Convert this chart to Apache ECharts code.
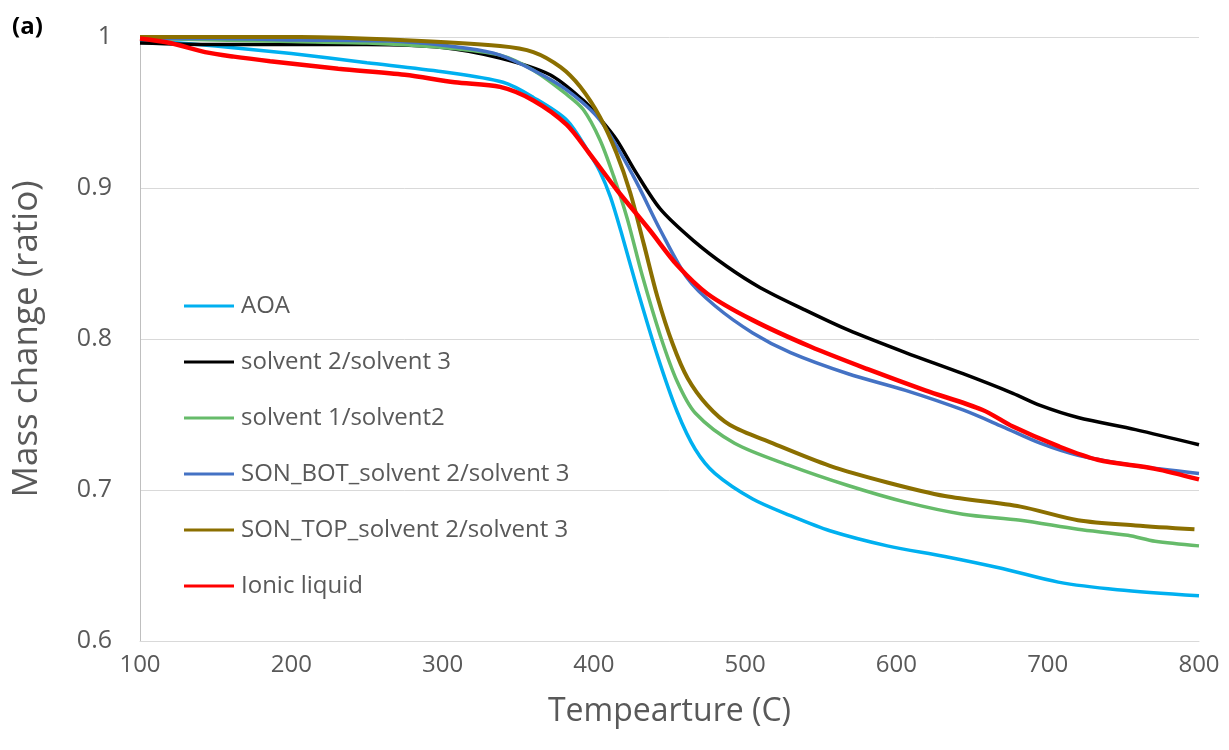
<!DOCTYPE html>
<html>
<head>
<meta charset="utf-8">
<script src="https://cdn.jsdelivr.net/npm/echarts@6/dist/echarts.min.js"></script>
<style>
  html, body { margin: 0; padding: 0; background: #fff; }
  #tga { width: 1229px; height: 750px; }
</style>
</head>
<body>
<div id="tga"></div>
<script>
// series names, in legend order
var names = ['AOA', 'solvent 2/solvent 3', 'solvent 1/solvent2',
  'SON_BOT_solvent 2/solvent 3', 'SON_TOP_solvent 2/solvent 3', 'Ionic liquid']
var colors = ['#00B0F0', '#000000', '#66BB6A', '#4472C4', '#8B6F00', '#FF0000']

// [temperature (C), mass ratio]
var aoa = [[100, 0.998], [150, 0.994], [200, 0.989], [250, 0.983], [300, 0.977], [340, 0.970],
  [360, 0.960], [382, 0.945], [397, 0.923], [404, 0.911], [411, 0.894], [418, 0.871],
  [429, 0.832], [442, 0.789], [455, 0.752], [467, 0.727], [480, 0.711], [505, 0.694],
  [530, 0.683], [556, 0.673], [594, 0.663], [632, 0.656], [670, 0.648], [707, 0.639],
  [746, 0.634], [800, 0.630]]
var solv23 = [[100, 0.996], [150, 0.995], [200, 0.995], [250, 0.995], [300, 0.993], [338, 0.986],
  [371, 0.975], [393, 0.958], [404, 0.946], [415, 0.932], [428, 0.910], [444, 0.886],
  [466, 0.865], [488, 0.848], [510, 0.834], [538, 0.820], [568, 0.806], [606, 0.791],
  [644, 0.777], [677, 0.764], [695, 0.756], [720, 0.748], [758, 0.740], [800, 0.730]]
var solv12 = [[100, 0.999], [150, 0.998], [200, 0.997], [250, 0.996], [300, 0.993], [338, 0.988],
  [360, 0.978], [382, 0.962], [393, 0.952], [404, 0.932], [413, 0.908], [422, 0.880],
  [432, 0.842], [444, 0.802], [455, 0.772], [467, 0.751], [493, 0.731], [530, 0.716],
  [568, 0.703], [606, 0.692], [644, 0.684], [682, 0.680], [720, 0.674], [753, 0.670],
  [771, 0.666], [800, 0.663]]
var sonBot = [[100, 0.999], [150, 0.999], [206, 0.998], [272, 0.997], [316, 0.9925], [338, 0.988],
  [360, 0.978], [382, 0.965], [404, 0.945], [426, 0.908], [444, 0.872], [462, 0.840],
  [480, 0.822], [505, 0.804], [530, 0.791], [568, 0.777], [606, 0.766], [644, 0.753],
  [670, 0.742], [695, 0.731], [720, 0.723], [758, 0.716], [800, 0.711]]
var sonTop = [[100, 1.0], [150, 1.0], [206, 1.0], [272, 0.998], [338, 0.994], [360, 0.990],
  [378, 0.980], [391, 0.967], [404, 0.947], [415, 0.923], [424, 0.897], [433, 0.863],
  [442, 0.828], [452, 0.797], [462, 0.774], [475, 0.756], [490, 0.743], [518, 0.731],
  [556, 0.716], [594, 0.705], [632, 0.696], [682, 0.689], [720, 0.680], [758, 0.6765],
  [797, 0.674]]
var ionic = [[100, 0.999], [120, 0.996], [143, 0.990], [162, 0.987], [186, 0.984], [231, 0.979],
  [275, 0.975], [308, 0.970], [338, 0.967], [360, 0.958], [382, 0.942], [397, 0.923],
  [415, 0.899], [437, 0.872], [455, 0.849], [475, 0.830], [505, 0.8125], [543, 0.795],
  [581, 0.780], [619, 0.766], [657, 0.753], [677, 0.742], [707, 0.729], [733, 0.720],
  [771, 0.714], [800, 0.707]]

var allData = [aoa, solv23, solv12, sonBot, sonTop, ionic]
var widths = [3.5, 3.5, 3.5, 3.5, 4, 4.5]

var gray = '#595959'
var font = 'Open Sans'

var chart = echarts.init(document.getElementById('tga'))
chart.setOption({
  backgroundColor: '#ffffff',
  animation: false,
  textStyle: { fontFamily: font },
  title: {
    text: '(a)',
    left: 7,
    top: 10,
    textStyle: { fontSize: 24, fontWeight: 'bold', color: '#000', fontFamily: font }
  },
  grid: { left: 140, right: 30, top: 37, bottom: 109 },
  legend: {
    orient: 'vertical',
    left: 184,
    top: 294,
    padding: 0,
    itemGap: 32,
    itemWidth: 50,
    itemHeight: 3,
    icon: 'rect',
    data: names,
    textStyle: { fontSize: 24, color: gray, lineHeight: 24, padding: [0, 0, 0, 2] }
  },
  xAxis: {
    type: 'value',
    min: 100,
    max: 800,
    interval: 100,
    name: 'Tempearture (C)',
    nameLocation: 'middle',
    nameGap: 55,
    nameTextStyle: { fontSize: 32, color: gray },
    axisLine: { show: true, lineStyle: { color: '#D9D9D9', width: 1 } },
    axisTick: { show: false },
    axisLabel: { fontSize: 24, color: gray, margin: 12 },
    splitLine: { show: false }
  },
  yAxis: {
    type: 'value',
    min: 0.6,
    max: 1,
    interval: 0.1,
    name: 'Mass change (ratio)',
    nameLocation: 'middle',
    nameGap: 95,
    nameTextStyle: { fontSize: 35, color: gray },
    axisLine: { show: true, lineStyle: { color: '#BFBFBF', width: 1 } },
    axisTick: { show: false },
    axisLabel: { fontSize: 25, color: gray, margin: 28 },
    splitLine: { show: true, lineStyle: { color: '#D9D9D9', width: 1 } }
  },
  series: names.map(function (n, i) {
    return {
      name: n,
      type: 'line',
      data: allData[i],
      smooth: 0.3,
      symbol: 'none',
      showSymbol: false,
      color: colors[i],
      lineStyle: { color: colors[i], width: widths[i] }
    }
  })
})
</script>
</body>
</html>
